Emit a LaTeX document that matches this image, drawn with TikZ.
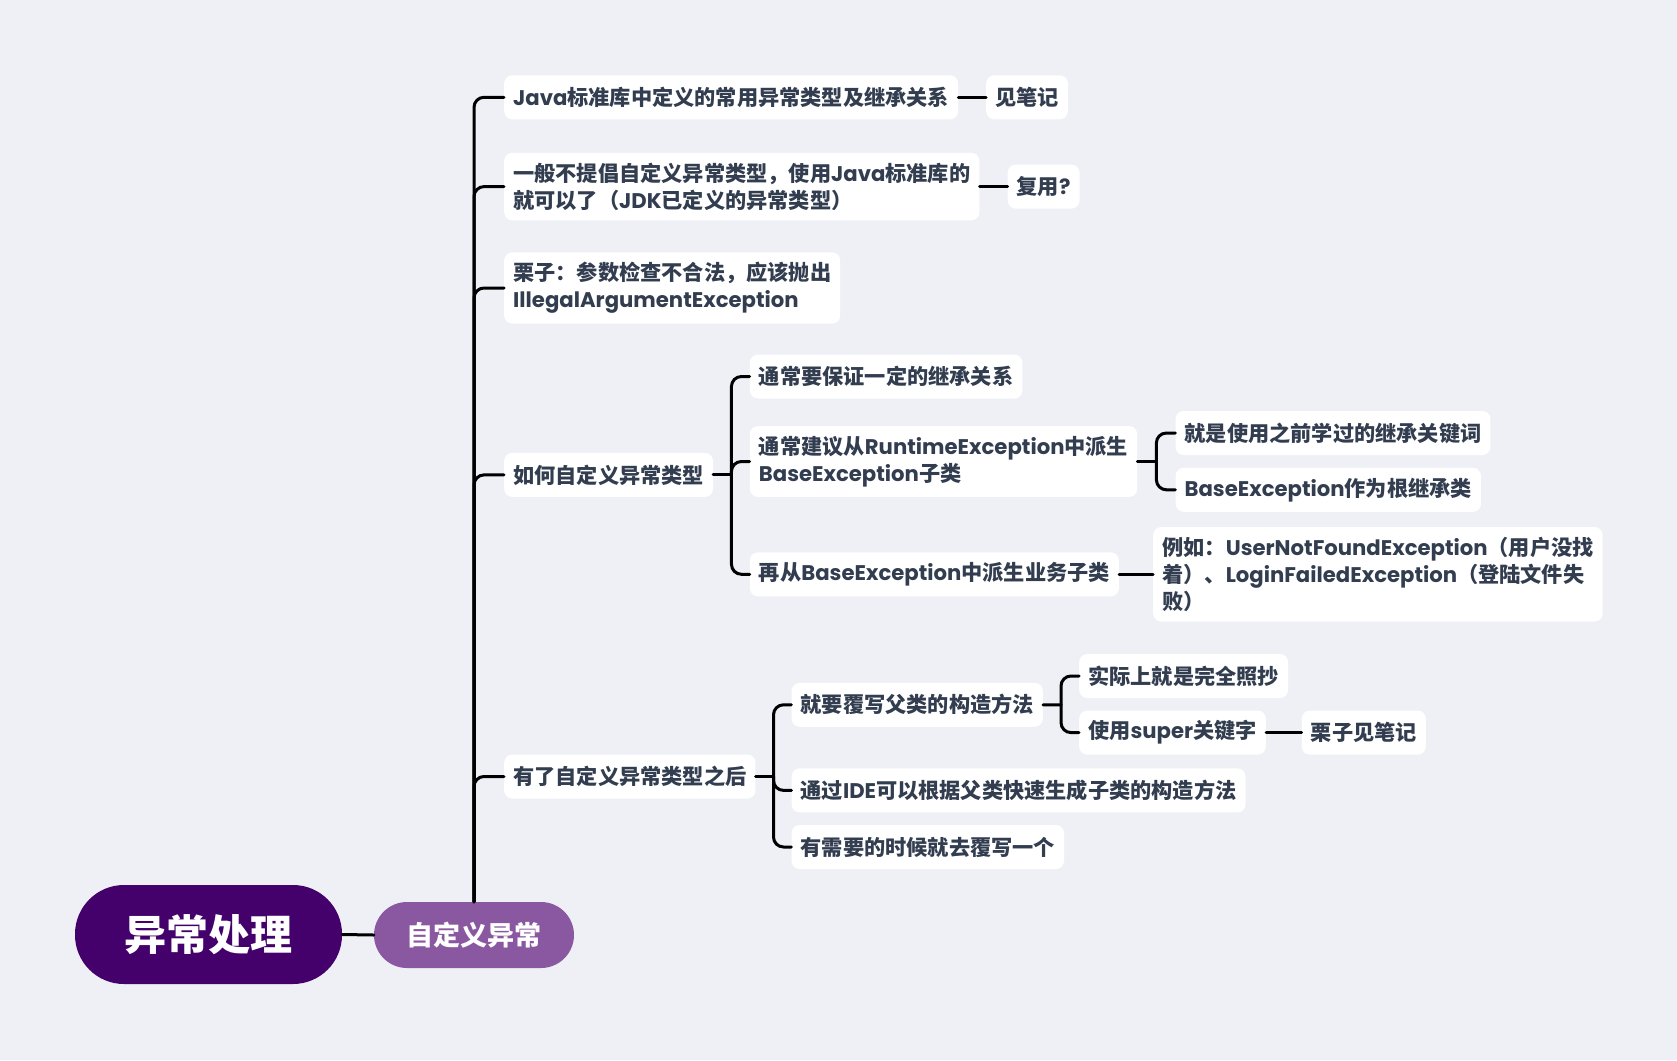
\documentclass[tikz,border=0pt]{standalone}
\usepackage{fontspec}
\setmainfont{Noto Sans CJK SC}
\newfontfamily\lat{Poppins}
\usetikzlibrary{calc}
\definecolor{bg}{HTML}{EFF0F5}
\definecolor{txt}{HTML}{323D50}
\definecolor{rootc}{HTML}{44006B}
\definecolor{subc}{HTML}{8A58A0}
\newcommand\latn[1]{{\lat #1}}
\begin{document}
\begin{tikzpicture}[x=1pt,y=-1pt,
  box/.style={fill=white, rounded corners=8pt, anchor=west, inner xsep=9pt, inner ysep=10pt,
    minimum height=44pt, align=left, text=txt, font=\bfseries\fontsize{21.2}{27}\selectfont},
  conn/.style={line width=3pt, rounded corners=10pt, draw=black, line cap=round}]
\fill[bg] (0,0) rectangle (1677,1060);
\useasboundingbox (0,0) rectangle (1677,1060);

\node[fill=rootc, minimum width=267pt, minimum height=99pt, rounded corners=49pt, text=white,
  font=\bfseries\fontsize{42}{48}\selectfont, inner sep=0pt] (root) at (208.5,934.5) {异常处理};
\node[fill=subc, minimum width=200pt, minimum height=66pt, rounded corners=33pt, text=white,
  font=\bfseries\fontsize{27}{32}\selectfont, inner sep=0pt] (sub) at (474,935) {自定义异常};

% level 2
\node[box] (n1) at (504,97.3) {\latn{Java}标准库中定义的常用异常类型及继承关系};
\node[box] (n3) at (504,186.6) {一般不提倡自定义异常类型，使用\latn{Java}标准库的\\就可以了（\latn{JDK}已定义的异常类型）};
\node[box] (n5) at (504,288) {栗子：参数检查不合法，应该抛出\\\latn{IllegalArgumentException}};
\node[box] (n6) at (504,474.9) {如何自定义异常类型};
\node[box] (n13) at (504,776.5) {有了自定义异常类型之后};

% level 3
\node[box] (n2) at (986,97.3) {见笔记};
\node[box] (n4) at (1007.5,186.6) {复用\latn{?}};
\node[box] (n7) at (749.7,376.5) {通常要保证一定的继承关系};
\node[box] (n8) at (749.7,461.5) {通常建议从\latn{RuntimeException}中派生\\\latn{BaseException}子类};
\node[box] (n9) at (749.7,574.3) {再从\latn{BaseException}中派生业务子类};
\node[box] (n14) at (791.4,704.8) {就要覆写父类的构造方法};
\node[box] (n15) at (791.4,790.4) {通过\latn{IDE}可以根据父类快速生成子类的构造方法};
\node[box] (n16) at (791.4,847) {有需要的时候就去覆写一个};

% level 4
\node[box] (n10) at (1175.4,433) {就是使用之前学过的继承关键词};
\node[box] (n11) at (1175.4,489.8) {\latn{BaseException}作为根继承类};
\node[box] (n12) at (1153,574.3) {例如：\latn{UserNotFoundException}（用户没找\\着）、\latn{LoginFailedException}（登陆文件失\\败）};
\node[box] (n17) at (1079,676) {实际上就是完全照抄};
\node[box] (n18) at (1079,732.6) {使用\latn{super}关键字};
\node[box] (n19) at (1301.6,732.6) {栗子见笔记};

% connectors
\draw[conn] (root.east) -- (sub.west);
\foreach \c in {n1,n3,n5,n6,n13} \draw[conn] (sub.north) |- (\c.west);
\draw[conn] (n1.east) -- (n2.west);
\draw[conn] (n3.east) -- (n4.west);
\draw[conn] (n9.east) -- (n12.west);
\draw[conn] (n18.east) -- (n19.west);

\coordinate (v6) at ($(n6.east)!0.5!(n6.east -| n7.west)$);
\draw[conn] (n6.east) -- (v6);
\foreach \c in {n7,n8,n9} \draw[conn] (v6) |- (\c.west);

\coordinate (v8) at ($(n8.east)!0.5!(n8.east -| n10.west)$);
\draw[conn] (n8.east) -- (v8);
\foreach \c in {n10,n11} \draw[conn] (v8) |- (\c.west);

\coordinate (v13) at ($(n13.east)!0.5!(n13.east -| n14.west)$);
\draw[conn] (n13.east) -- (v13);
\foreach \c in {n14,n15,n16} \draw[conn] (v13) |- (\c.west);

\coordinate (v14) at ($(n14.east)!0.5!(n14.east -| n17.west)$);
\draw[conn] (n14.east) -- (v14);
\foreach \c in {n17,n18} \draw[conn] (v14) |- (\c.west);
\end{tikzpicture}
\end{document}
